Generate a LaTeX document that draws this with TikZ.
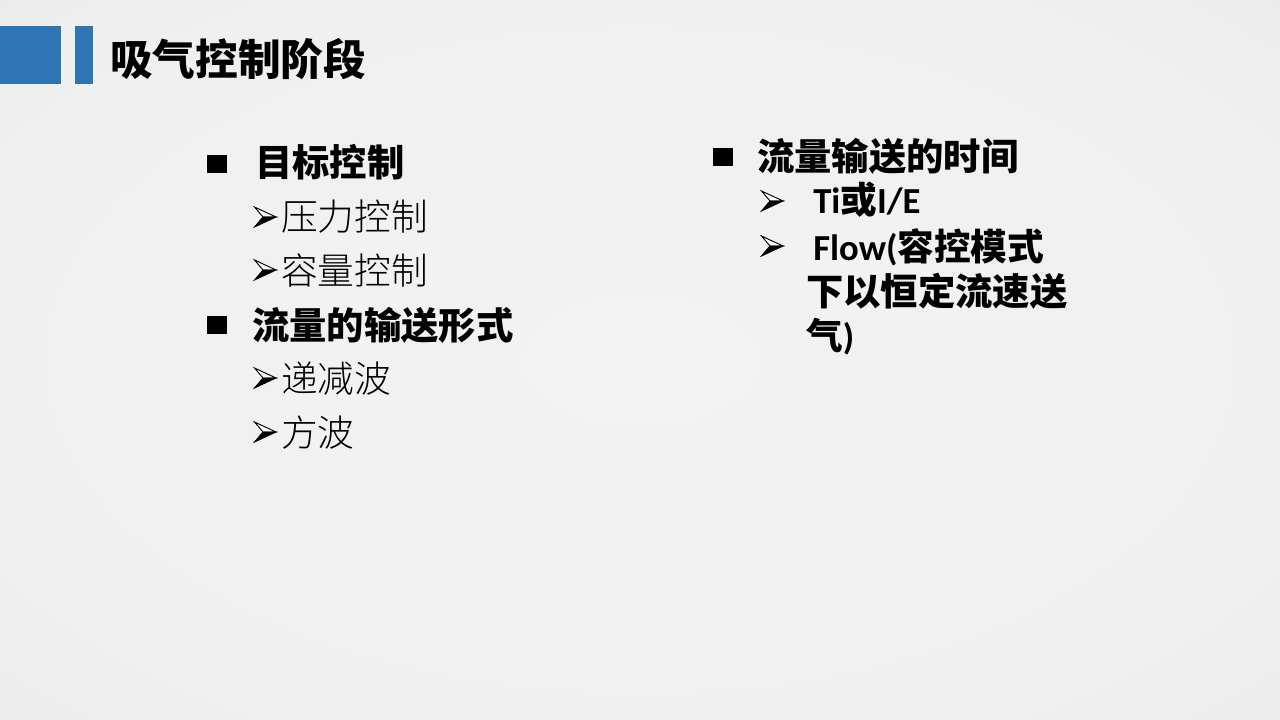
\documentclass[tikz,border=0pt]{standalone}
\usepackage{fontspec}
\setmainfont{Carlito}
\newfontfamily\cjk{Noto Sans CJK SC}
\newfontfamily\cjklt{Noto Sans CJK SC Light}
\definecolor{bgin}{HTML}{F3F3F3}
\definecolor{bgmid}{HTML}{F0F0F0}
\definecolor{bgout}{HTML}{DADADA}
\definecolor{slideblue}{HTML}{2E75B6}
\pgfdeclareradialshading{slidebg}{\pgfpoint{0bp}{0bp}}{color(0bp)=(bgin); color(28bp)=(bgmid); color(71bp)=(bgout)}
\tikzset{
  txt/.style={inner sep=0pt, anchor=base west, text=black},
  lvlone/.style={txt, font=\fontsize{28pt}{33pt}\selectfont\cjk\bfseries},
  lvltwo/.style={txt, font=\fontsize{27.5pt}{33pt}\selectfont\cjklt},
  rbold/.style={txt, font=\fontsize{27.5pt}{33pt}\selectfont\bfseries},
  sqbullet/.style={fill=black, draw=none, minimum width=15pt, minimum height=13.5pt, inner sep=0pt},
  arrowmark/.pic={
    \filldraw[fill=white, draw=black, line width=0.7pt, line join=miter] (0.5,-10) -- (22,0) -- (9,0) -- cycle;
    \filldraw[fill=black, draw=black, line width=0.7pt, line join=miter] (0.5,10) -- (22,0) -- (9,0) -- cycle;
  },
}
\begin{document}
\begin{tikzpicture}[x=0.75pt,y=-0.75pt]
\useasboundingbox (0,0) rectangle (1280,720);
\shade[shading=slidebg] (0,0) rectangle (1280,720);
% header bars
\fill[slideblue] (0,26) rectangle (61,84);
\fill[slideblue] (75,26) rectangle (93,84);
\node[txt, font=\fontsize{32pt}{38pt}\selectfont\cjk\bfseries] (title) at (110,76) {吸气控制阶段};
% left column
\node[sqbullet] (b1) at (217,164) {};
\node[lvlone] (t1) at (255,177) {目标控制};
\pic (a1) at (254,217) {arrowmark};
\node[lvltwo] (t11) at (281,231) {压力控制};
\pic (a2) at (254,270) {arrowmark};
\node[lvltwo] (t12) at (281,284) {容量控制};
\node[sqbullet] (b2) at (217,325) {};
\node[lvlone] (t2) at (252,339) {流量的输送形式};
\pic (a3) at (254,378) {arrowmark};
\node[lvltwo] (t21) at (281,392) {递减波};
\pic (a4) at (254,432) {arrowmark};
\node[lvltwo] (t22) at (281,446) {方波};
% right column
\node[sqbullet] (b3) at (723,157) {};
\node[lvlone] (t3) at (757,171) {流量输送的时间};
\pic (a5) at (761,201) {arrowmark};
\node[rbold] (t31) at (813,214) {Ti{\cjk\bfseries 或}I/E};
\pic (a6) at (761,246) {arrowmark};
\node[rbold] (t32) at (813,260) {Flow({\cjk\bfseries 容控模式}};
\node[lvlone] (t33) at (806,305) {下以恒定流速送};
\node[rbold] (t34) at (806,349) {{\cjk\bfseries 气})};
\end{tikzpicture}
\end{document}
